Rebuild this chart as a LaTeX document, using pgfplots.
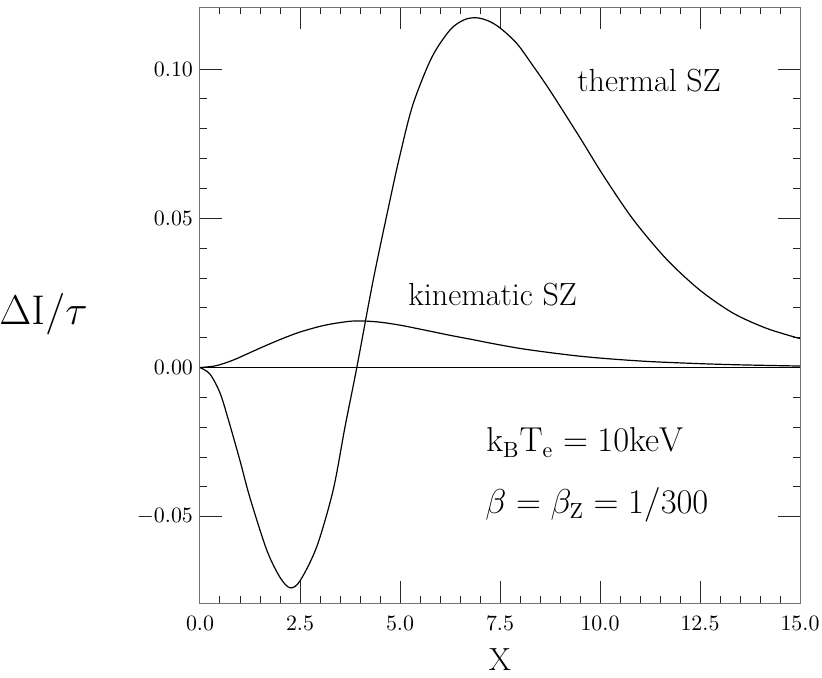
\documentclass[border=0pt]{standalone}
\usepackage{pgfplots}
\pgfplotsset{compat=1.18}
\begin{document}
\begin{tikzpicture}
\path[use as bounding box] (-100pt,-36.85pt) rectangle (311pt,301.65pt);
\begin{axis}[
	at={(0,0)}, anchor=south west,
	scale only axis, width=300pt, height=298pt,
	xmin=0, xmax=15, ymin=-0.079, ymax=0.1207,
	xtick={0,2.5,5,7.5,10,12.5,15},
	ytick={-0.05,0,0.05,0.1},
	minor x tick num=4, minor y tick num=4,
	tick align=inside,
	major tick length=11pt, minor tick length=3.5pt,
	scaled y ticks=false,
	xticklabel style={/pgf/number format/fixed, /pgf/number format/fixed zerofill, /pgf/number format/precision=1, yshift=-2.8pt},
	yticklabel style={/pgf/number format/fixed, /pgf/number format/fixed zerofill, /pgf/number format/precision=2},
	tick label style={font=\fontsize{11}{12}\selectfont},
	axis line style={black!55, line width=0.5pt},
	every tick/.style={black!85, line width=0.5pt},
	xlabel={X},
	xlabel style={at={(axis description cs:0.5,-0.094)}, anchor=center, font=\fontsize{16}{18}\selectfont},
	clip=false]
	% zero line
	\addplot[black, line width=0.6pt] coordinates {(0,0) (15,0)};
	% thermal SZ
	\addplot[black, line width=0.6pt, smooth] coordinates {
		(0,0) (0.25,-0.0022) (0.5,-0.0085) (0.71,-0.0175) (1.0,-0.0312) (1.25,-0.0437)
		(1.67,-0.0612) (2.0,-0.0703) (2.25,-0.0738) (2.5,-0.0715) (2.92,-0.0600)
		(3.33,-0.0410) (3.625,-0.0199) (3.92,0) (4.33,0.0293) (4.75,0.0561) (5.0,0.0712)
		(5.32,0.0880) (5.79,0.1038) (6.25,0.1131) (6.6,0.1165) (6.9,0.1172) (7.2,0.1162)
		(7.5,0.1138) (7.92,0.1086) (8.33,0.1010) (8.75,0.0928) (9.5,0.0770) (10.08,0.0644)
		(10.83,0.0496) (11.67,0.0362) (12.5,0.0259) (13.33,0.0182) (14.17,0.0131) (15,0.0097)};
	% kinematic SZ
	\addplot[black, line width=0.6pt, smooth] coordinates {
		(0,0) (0.4,0.0006) (0.83,0.0025) (1.25,0.0050) (1.67,0.0075) (2.08,0.0098)
		(2.5,0.0119) (3.0,0.0138) (3.33,0.0147) (3.75,0.0155) (4.08,0.0156) (4.5,0.0152)
		(5.0,0.0142) (5.6,0.0126) (6.25,0.0108) (6.8,0.0094) (7.33,0.0080) (8.0,0.0064)
		(8.75,0.0050) (9.5,0.0038) (10.25,0.0029) (11.25,0.0020) (12.5,0.0013)
		(13.5,0.0009) (15,0.0005)};
	\node[anchor=base west, inner sep=0, font=\fontsize{16}{18}\selectfont] at (axis cs:9.425,0.0926) {thermal SZ};
	\node[anchor=base west, inner sep=0, font=\fontsize{16}{18}\selectfont] at (axis cs:5.2,0.0209) {kinematic SZ};
	\node[anchor=base west, inner sep=0, font=\fontsize{16}{18}\selectfont] at (axis cs:7.15,-0.0283) {$\mathrm{k_B T_e = 10keV}$};
	\node[anchor=base west, inner sep=0, font=\fontsize{16}{18}\selectfont] at (axis cs:7.125,-0.0489) {$\beta=\beta_{\mathrm{Z}}=1/300$};
	\node[anchor=base west, inner sep=0, font=\fontsize{20}{22}\selectfont] at (axis description cs:-0.335,0.467) {$\Delta\mathrm{I}/\tau$};
\end{axis}
\end{tikzpicture}
\end{document}
